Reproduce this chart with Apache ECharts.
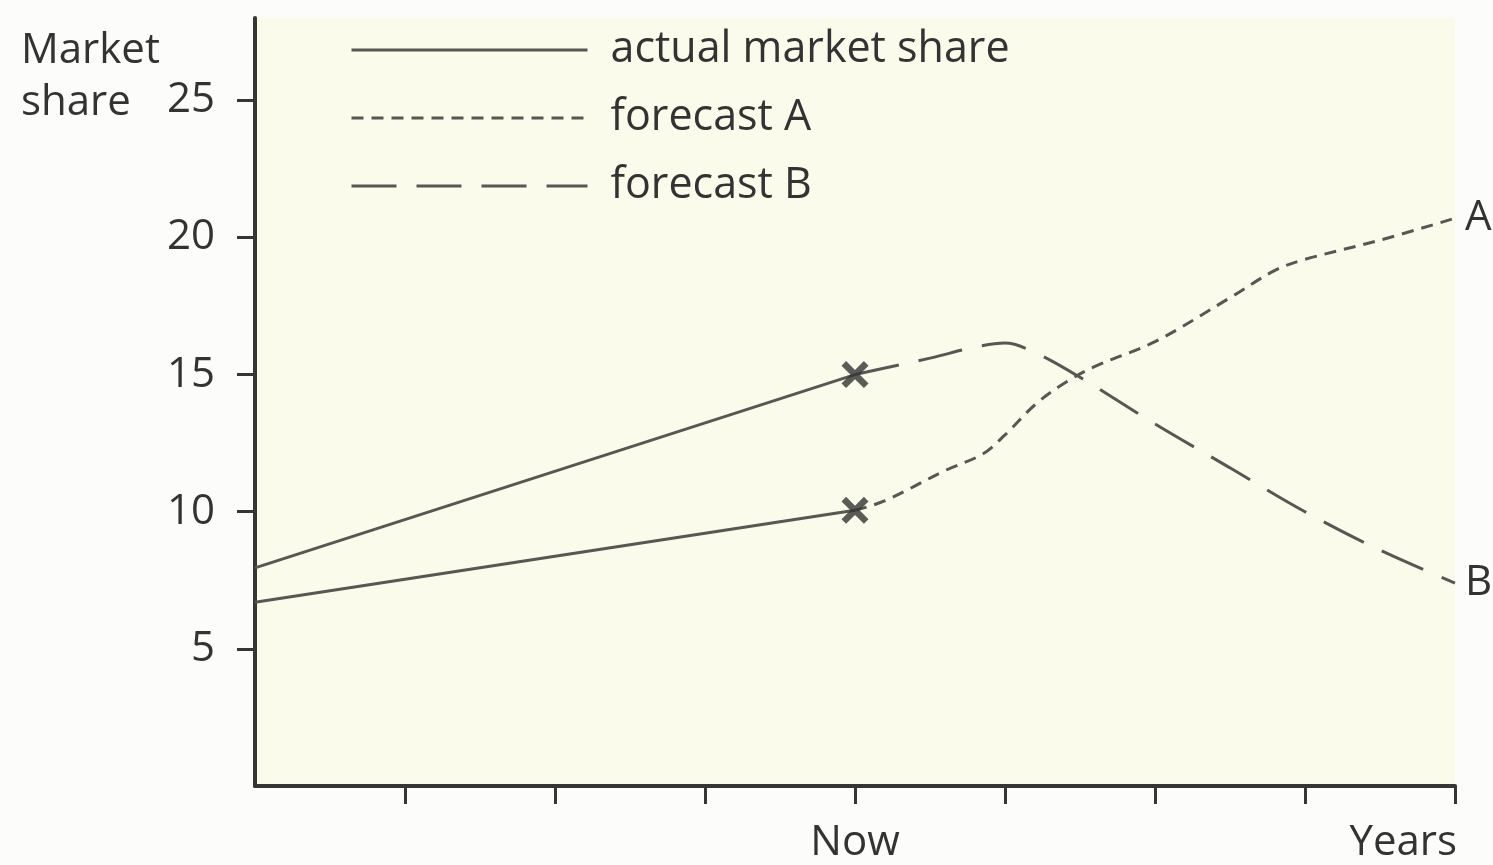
<!DOCTYPE html>
<html>
<head>
<meta charset="utf-8">
<script src="https://cdn.jsdelivr.net/npm/echarts@6/dist/echarts.min.js"></script>
<style>
  html, body { margin: 0; padding: 0; background: #fcfcfa; }
  #chart { width: 1493px; height: 865px; }
</style>
</head>
<body>
<div id="chart"></div>
<script>
// ---- data (x = years on a 0..8 scale, "Now" = 4) ----
const actualUpper = [[0, 7.95], [4, 15.0]];
const actualLower = [[0, 6.7], [4, 10.05]];
const forecastA = [[4, 10.05], [4.2, 10.4], [4.6, 11.5], [4.85, 12.1], [5.0, 12.8], [5.2, 13.9], [5.4, 14.7],
                   [5.6, 15.3], [6.0, 16.2], [6.5, 17.8], [6.8, 18.8], [7.0, 19.2], [7.5, 19.9], [8.0, 20.7]];
const forecastB = [[4, 15.0], [4.5, 15.6], [4.8, 16.0], [5.0, 16.15], [5.2, 15.8], [5.5, 14.9], [6.0, 13.2],
                   [6.5, 11.6], [7.0, 10.0], [7.5, 8.6], [8.0, 7.4]];
const nowMarks = [[4, 15.0], [4, 10.05]];
const yTicks = [5, 10, 15, 20, 25];
const xTicks = [1, 2, 3, 4, 5, 6, 7, 8];
const xLabels = { 4: 'Now' };
const legendNames = ['actual market share', 'forecast A', 'forecast B'];

const FONT = 'Open Sans';
const TXT = '#333333';
const LINE = '#575753';
const AXIS = '#363634';
const X_PATH = 'path://M0,3.4 L3.4,0 L10,6.6 L16.6,0 L20,3.4 L13.4,10 L20,16.6 L16.6,20 L10,13.4 L3.4,20 L0,16.6 L6.6,10 Z';

const chart = echarts.init(document.getElementById('chart'), null, { renderer: 'canvas' });
chart.setOption({
  backgroundColor: '#fcfcfa',
  animation: false,
  textStyle: { fontFamily: FONT },
  title: {
    text: 'Market\nshare',
    left: 16, top: 20,
    textStyle: { fontFamily: FONT, fontSize: 42, fontWeight: 'normal', color: TXT, lineHeight: 52 }
  },
  legend: {
    data: legendNames,
    orient: 'vertical',
    left: 345, top: 20,
    itemWidth: 236, itemHeight: 14,
    itemGap: 18,
    selectedMode: false,
    itemStyle: { opacity: 0 },
    lineStyle: { width: 3, color: LINE },
    textStyle: { fontFamily: FONT, fontSize: 43, color: TXT, lineHeight: 50, padding: [0, 0, 0, 18] }
  },
  grid: {
    left: 255, right: 38, top: 18, bottom: 79,
    show: true, backgroundColor: '#fbfbec', borderWidth: 0
  },
  xAxis: {
    type: 'value', min: 0, max: 8, interval: 1,
    name: 'Years', nameLocation: 'end', nameGap: 2,
    nameTextStyle: { fontFamily: FONT, fontSize: 42, color: TXT, align: 'right', verticalAlign: 'top', padding: [36, 0, 0, 0] },
    axisLine: { show: true, lineStyle: { color: AXIS, width: 4 } },
    axisTick: { show: true, length: 18, lineStyle: { color: AXIS, width: 3 }, customValues: xTicks },
    axisLabel: {
      show: true, margin: 36, fontFamily: FONT, fontSize: 42, color: TXT,
      customValues: [4],
      formatter: v => xLabels[v] || ''
    },
    splitLine: { show: false }
  },
  yAxis: {
    type: 'value', min: 0, max: 28, interval: 5,
    axisLine: { show: true, lineStyle: { color: AXIS, width: 4 } },
    axisTick: { show: true, length: 18, lineStyle: { color: AXIS, width: 3 }, customValues: yTicks },
    axisLabel: { show: true, margin: 40, fontFamily: FONT, fontSize: 42, color: TXT, customValues: yTicks },
    splitLine: { show: false }
  },
  series: [
    {
      name: 'actual market share', type: 'line', data: actualUpper, symbol: 'none',
      lineStyle: { color: LINE, width: 3, type: 'solid' }, itemStyle: { color: LINE }
    },
    {
      name: 'actual market share', type: 'line', data: actualLower, symbol: 'none',
      lineStyle: { color: LINE, width: 3, type: 'solid' }, itemStyle: { color: LINE }
    },
    {
      name: 'forecast A', type: 'line', data: forecastA, symbol: 'none', smooth: 0.35,
      lineStyle: { color: LINE, width: 3, type: [12, 8] }, itemStyle: { color: LINE },
      endLabel: { show: true, formatter: 'A', fontFamily: FONT, fontSize: 42, color: TXT, distance: 10 }
    },
    {
      name: 'forecast B', type: 'line', data: forecastB, symbol: 'none', smooth: 0.35,
      lineStyle: { color: LINE, width: 3, type: [45, 20] }, itemStyle: { color: LINE },
      endLabel: { show: true, formatter: 'B', fontFamily: FONT, fontSize: 42, color: TXT, distance: 10 }
    },
    {
      name: 'now', type: 'scatter', data: nowMarks, symbol: X_PATH, symbolSize: 27,
      itemStyle: { color: '#333333' }, z: 5
    }
  ]
});
</script>
</body>
</html>
